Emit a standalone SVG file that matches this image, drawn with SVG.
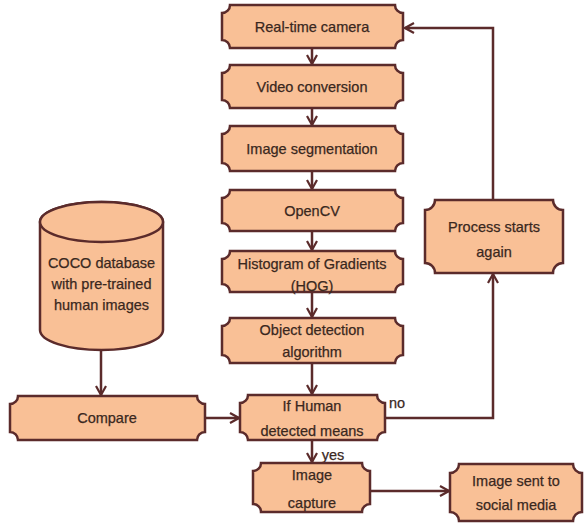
<svg xmlns="http://www.w3.org/2000/svg" width="584" height="525" viewBox="0 0 584 525">
<style>
.box{fill:#F9C096;stroke:#5B2B2B;stroke-width:2.5}
.t{font-family:"Liberation Sans",Arial,sans-serif;font-size:14.5px;fill:#3A281E;stroke:#3A281E;stroke-width:0.25;text-anchor:middle}
.c{fill:none;stroke:#5B2B2B;stroke-width:2.5}
</style>
<defs>
<marker id="a" markerWidth="12" markerHeight="12" refX="10" refY="6" orient="auto" markerUnits="userSpaceOnUse">
<path d="M1,1 L10,6 L1,11" fill="none" stroke="#5B2B2B" stroke-width="2.2"/>
</marker>
</defs>
<rect width="584" height="525" fill="#fff"/>
<g id="connectors">
<line class="c" x1="312" y1="48" x2="312" y2="64" marker-end="url(#a)"/>
<line class="c" x1="312" y1="108" x2="312" y2="125" marker-end="url(#a)"/>
<line class="c" x1="312" y1="171" x2="312" y2="189" marker-end="url(#a)"/>
<line class="c" x1="312" y1="231" x2="312" y2="250" marker-end="url(#a)"/>
<line class="c" x1="312" y1="292" x2="312" y2="317" marker-end="url(#a)"/>
<line class="c" x1="312" y1="363" x2="312" y2="394" marker-end="url(#a)"/>
<line class="c" x1="312" y1="440" x2="312" y2="462" marker-end="url(#a)"/>
<line class="c" x1="101" y1="350" x2="101" y2="395" marker-end="url(#a)"/>
<line class="c" x1="205" y1="418" x2="239" y2="418" marker-end="url(#a)"/>
<line class="c" x1="370" y1="491" x2="449" y2="491" marker-end="url(#a)"/>
<polyline class="c" points="385,418 493,418 493,274" marker-end="url(#a)"/>
<polyline class="c" points="493,200 493,28 405,28" marker-end="url(#a)"/>
<text class="t" x="397" y="408">no</text>
<text class="t" x="333" y="460">yes</text>
</g>
<g id="n1"><path class="box" d="M230,5 H395 A8,8 0 0 0 403,13 V40 A8,8 0 0 0 395,48 H230 A8,8 0 0 0 222,40 V13 A8,8 0 0 0 230,5 Z"/><text class="t" x="312" y="32">Real-time camera</text></g>
<g id="n2"><path class="box" d="M230,65 H395 A8,8 0 0 0 403,73 V100 A8,8 0 0 0 395,108 H230 A8,8 0 0 0 222,100 V73 A8,8 0 0 0 230,65 Z"/><text class="t" x="312" y="92">Video conversion</text></g>
<g id="n3"><path class="box" d="M230,126 H395 A8,8 0 0 0 403,134 V163 A8,8 0 0 0 395,171 H230 A8,8 0 0 0 222,163 V134 A8,8 0 0 0 230,126 Z"/><text class="t" x="312" y="154">Image segmentation</text></g>
<g id="n4"><path class="box" d="M230,190 H395 A8,8 0 0 0 403,198 V223 A8,8 0 0 0 395,231 H230 A8,8 0 0 0 222,223 V198 A8,8 0 0 0 230,190 Z"/><text class="t" x="312" y="216">OpenCV</text></g>
<g id="n5"><path class="box" d="M230,251 H395 A8,8 0 0 0 403,259 V284 A8,8 0 0 0 395,292 H230 A8,8 0 0 0 222,284 V259 A8,8 0 0 0 230,251 Z"/><text class="t" x="312" y="269">Histogram of Gradients</text><text class="t" x="312" y="291">(HOG)</text></g>
<g id="n6"><path class="box" d="M230,318 H395 A8,8 0 0 0 403,326 V355 A8,8 0 0 0 395,363 H230 A8,8 0 0 0 222,355 V326 A8,8 0 0 0 230,318 Z"/><text class="t" x="312" y="335">Object detection</text><text class="t" x="312" y="357">algorithm</text></g>
<g id="n7"><path class="box" d="M248,395 H377 A8,8 0 0 0 385,403 V432 A8,8 0 0 0 377,440 H248 A8,8 0 0 0 240,432 V403 A8,8 0 0 0 248,395 Z"/><text class="t" x="312" y="411">If Human</text><text class="t" x="312" y="436">detected means</text></g>
<g id="n8"><path class="box" d="M261,463 H362 A8,8 0 0 0 370,471 V504 A8,8 0 0 0 362,512 H261 A8,8 0 0 0 253,504 V471 A8,8 0 0 0 261,463 Z"/><text class="t" x="312" y="480">Image</text><text class="t" x="312" y="508">capture</text></g>
<g id="n9"><path class="box" d="M459,464 H573 A9,9 0 0 0 582,473 V512 A9,9 0 0 0 573,521 H459 A9,9 0 0 0 450,512 V473 A9,9 0 0 0 459,464 Z"/><text class="t" x="516" y="486">Image sent to</text><text class="t" x="516" y="510">social media</text></g>
<g id="n10"><path class="box" d="M435,200 H553 A10,10 0 0 0 563,210 V263 A10,10 0 0 0 553,273 H435 A10,10 0 0 0 425,263 V210 A10,10 0 0 0 435,200 Z"/><text class="t" x="494" y="232">Process starts</text><text class="t" x="494" y="257">again</text></g>
<g id="n11"><path class="box" d="M40,222 V330 A61.5,20 0 0 0 163,330 V222 A61.5,20 0 0 0 40,222 Z"/><ellipse class="box" cx="101.5" cy="222" rx="61.5" ry="20"/><text class="t" x="101.5" y="268">COCO database</text><text class="t" x="101.5" y="289">with pre-trained</text><text class="t" x="101.5" y="310">human images</text></g>
<g id="n12"><path class="box" d="M18,396 H197 A8,8 0 0 0 205,404 V432 A8,8 0 0 0 197,440 H18 A8,8 0 0 0 10,432 V404 A8,8 0 0 0 18,396 Z"/><text class="t" x="107" y="423">Compare</text></g>
</svg>
